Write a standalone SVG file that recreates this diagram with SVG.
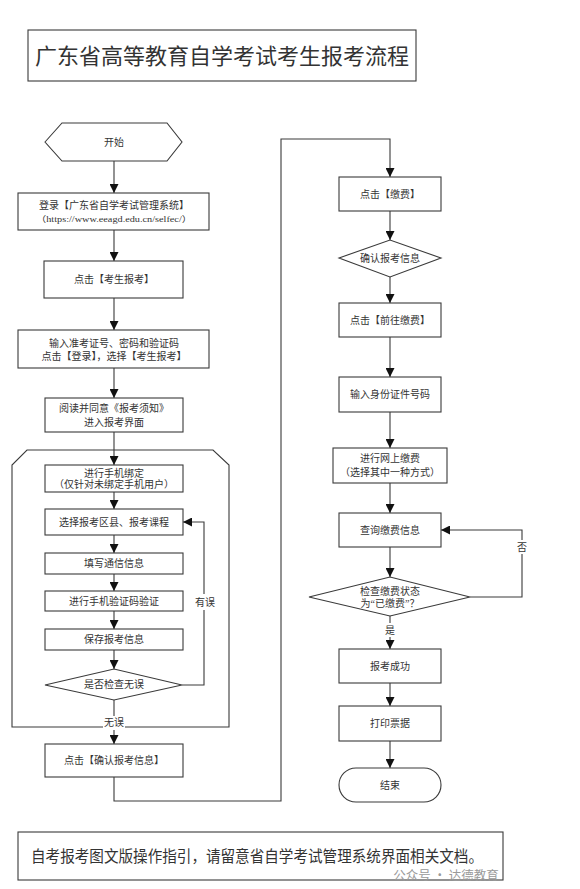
<svg xmlns="http://www.w3.org/2000/svg" width="580" height="889" viewBox="0 0 580 889">
<style>
.box{fill:#fff;stroke:#3a3a3a;stroke-width:1.1}
.ln{fill:none;stroke:#3a3a3a;stroke-width:1.1}
text{font-family:"Liberation Serif","Noto Sans CJK SC",serif;fill:#333;text-anchor:middle;dominant-baseline:central}
.t{font-size:10px}
.lb{fill:#fff;stroke:none}
</style>
<defs>
<marker id="ar" markerUnits="userSpaceOnUse" markerWidth="9" markerHeight="9" refX="9" refY="4.5" orient="auto">
<path d="M0,0 L9,4.5 L0,9 z" fill="#111"/>
</marker>
</defs>
<rect width="580" height="889" fill="#fff"/>

<g id="title">
<rect class="box" x="28" y="30" width="388" height="51"/>
<text x="222" y="56" style="font-size:22px">广东省高等教育自学考试考生报考流程</text>
</g>

<g id="container">
<path class="ln" d="M27,450 H213 L229,465 V727 H12 V465 Z"/>
</g>

<g id="connectors">
<path class="ln" d="M114,161 V193" marker-end="url(#ar)"/>
<path class="ln" d="M114,230 V261" marker-end="url(#ar)"/>
<path class="ln" d="M114,298 V330" marker-end="url(#ar)"/>
<path class="ln" d="M114,368 V398" marker-end="url(#ar)"/>
<path class="ln" d="M114,432 V465" marker-end="url(#ar)"/>
<path class="ln" d="M114,492 V509" marker-end="url(#ar)"/>
<path class="ln" d="M114,535 V553" marker-end="url(#ar)"/>
<path class="ln" d="M114,574 V591" marker-end="url(#ar)"/>
<path class="ln" d="M114,611 V629" marker-end="url(#ar)"/>
<path class="ln" d="M114,650 V669" marker-end="url(#ar)"/>
<path class="ln" d="M182,685 H204 V522 H183" marker-end="url(#ar)"/>
<path class="ln" d="M114,700 V744" marker-end="url(#ar)"/>
<path class="ln" d="M114,777 V801 H281 V139 H390 V177" marker-end="url(#ar)"/>
<path class="ln" d="M390,211 V240" marker-end="url(#ar)"/>
<path class="ln" d="M390,277 V303" marker-end="url(#ar)"/>
<path class="ln" d="M390,337 V377" marker-end="url(#ar)"/>
<path class="ln" d="M390,412 V448" marker-end="url(#ar)"/>
<path class="ln" d="M390,483 V513" marker-end="url(#ar)"/>
<path class="ln" d="M390,547 V577" marker-end="url(#ar)"/>
<path class="ln" d="M470,597 H522 V530 H441" marker-end="url(#ar)"/>
<path class="ln" d="M390,616 V649" marker-end="url(#ar)"/>
<path class="ln" d="M390,683 V706" marker-end="url(#ar)"/>
<path class="ln" d="M390,741 V768" marker-end="url(#ar)"/>
<rect class="lb" x="194" y="594" width="21" height="16"/>
<text class="t" x="205" y="602">有误</text>
<rect class="lb" x="103" y="716" width="22" height="14"/>
<text class="t" x="114" y="722">无误</text>
<rect class="lb" x="515" y="540" width="14" height="14"/>
<text class="t" x="522" y="547">否</text>
<rect class="lb" x="383" y="623" width="14" height="14"/>
<text class="t" x="390" y="630">是</text>
</g>

<g id="start">
<path class="box" d="M45,142 L62,123 H167 L182,142 L167,161 H62 Z"/>
<text class="t" x="114" y="142">开始</text>
</g>
<g id="login">
<rect class="box" x="18" y="193" width="191" height="37"/>
<text class="t" x="114" y="205">登录【广东省自学考试管理系统】</text>
<text x="114" y="219" style="font-size:8.5px" textLength="156" lengthAdjust="spacingAndGlyphs">（https://www.eeagd.edu.cn/selfec/）</text>
</g>
<g id="click-apply">
<rect class="box" x="44" y="261" width="139" height="37"/>
<text class="t" x="114" y="279">点击【考生报考】</text>
</g>
<g id="input-id">
<rect class="box" x="18" y="330" width="191" height="38"/>
<text class="t" x="114" y="343">输入准考证号、密码和验证码</text>
<text class="t" x="114" y="356">点击【登录】，选择【考生报考】</text>
</g>
<g id="read-notice">
<rect class="box" x="45" y="398" width="138" height="34"/>
<text class="t" x="114" y="408">阅读并同意《报考须知》</text>
<text class="t" x="114" y="422">进入报考界面</text>
</g>
<g id="bind-phone">
<rect class="box" x="45" y="465" width="138" height="27"/>
<text class="t" x="114" y="473">进行手机绑定</text>
<text class="t" x="114" y="484">（仅针对未绑定手机用户）</text>
</g>
<g id="choose-course">
<rect class="box" x="45" y="509" width="138" height="26"/>
<text class="t" x="114" y="522">选择报考区县、报考课程</text>
</g>
<g id="fill-contact">
<rect class="box" x="45" y="553" width="138" height="21"/>
<text class="t" x="114" y="563">填写通信信息</text>
</g>
<g id="verify-code">
<rect class="box" x="45" y="591" width="138" height="20"/>
<text class="t" x="114" y="601">进行手机验证码验证</text>
</g>
<g id="save-info">
<rect class="box" x="45" y="629" width="138" height="21"/>
<text class="t" x="114" y="639">保存报考信息</text>
</g>
<g id="check-ok">
<path class="box" d="M45,685 L114,669 L182,685 L114,700 Z"/>
<text class="t" x="114" y="684">是否检查无误</text>
</g>
<g id="confirm">
<rect class="box" x="45" y="744" width="138" height="33"/>
<text class="t" x="114" y="760">点击【确认报考信息】</text>
</g>

<g id="pay">
<rect class="box" x="339" y="177" width="102" height="34"/>
<text class="t" x="390" y="194">点击【缴费】</text>
</g>
<g id="confirm-info">
<path class="box" d="M339,258 L390,240 L441,258 L390,277 Z"/>
<text class="t" x="390" y="258">确认报考信息</text>
</g>
<g id="goto-pay">
<rect class="box" x="339" y="303" width="102" height="34"/>
<text class="t" x="390" y="320">点击【前往缴费】</text>
</g>
<g id="input-idcard">
<rect class="box" x="339" y="377" width="102" height="35"/>
<text class="t" x="390" y="394">输入身份证件号码</text>
</g>
<g id="online-pay">
<rect class="box" x="333" y="448" width="114" height="35"/>
<text class="t" x="390" y="458">进行网上缴费</text>
<text class="t" x="390" y="472">（选择其中一种方式）</text>
</g>
<g id="query-pay">
<rect class="box" x="339" y="513" width="102" height="34"/>
<text class="t" x="390" y="530">查询缴费信息</text>
</g>
<g id="check-paid">
<path class="box" d="M309,597 L390,577 L470,597 L390,616 Z"/>
<text class="t" x="390" y="591">检查缴费状态</text>
<text class="t" x="390" y="603">为“已缴费”？</text>
</g>
<g id="success">
<rect class="box" x="339" y="649" width="102" height="34"/>
<text class="t" x="390" y="666">报考成功</text>
</g>
<g id="print">
<rect class="box" x="339" y="706" width="102" height="35"/>
<text class="t" x="390" y="723">打印票据</text>
</g>
<g id="end">
<rect class="box" x="339" y="768" width="102" height="34" rx="17"/>
<text class="t" x="390" y="785">结束</text>
</g>

<g id="note">
<rect class="box" x="18" y="832" width="485" height="48"/>
<text x="257" y="856" style="font-size:16px" textLength="452" lengthAdjust="spacingAndGlyphs">自考报考图文版操作指引，请留意省自学考试管理系统界面相关文档。</text>
<text x="446" y="874" style="font-size:12.5px;fill:#9a9a9a;font-family:'Noto Sans CJK SC',sans-serif">公众号 · 达德教育</text>
</g>
</svg>
